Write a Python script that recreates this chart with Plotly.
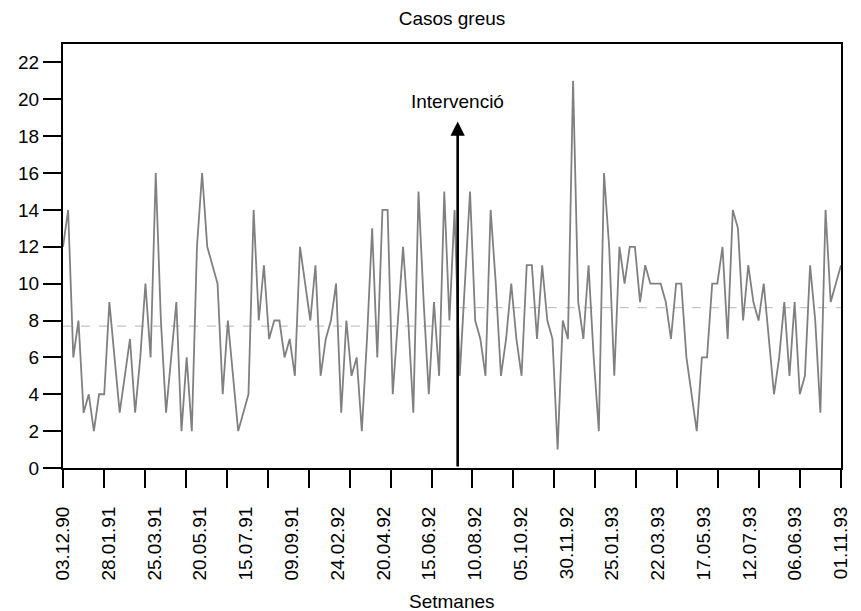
import numpy as np
import plotly.graph_objects as go

# Weekly counts of severe cases
casos = [
    12, 14, 6, 8, 3, 4, 2, 4, 4, 9, 6, 3, 5, 7, 3, 6, 10, 6, 16, 8, 3, 6, 9, 2, 6, 2, 12, 16, 12, 11, 10, 4,
    8, 5, 2, 3, 4, 14, 8, 11, 7, 8, 8, 6, 7, 5, 12, 10, 8, 11, 5, 7, 8, 10, 3, 8, 5, 6, 2, 7,
    13, 6, 14, 14, 4, 8, 12, 8, 3, 15, 9, 4, 9, 5, 15, 8, 14,
    5, 10, 15, 8, 7, 5, 14, 10, 5, 7, 10, 7, 5, 11, 11, 7, 11, 8, 7, 1, 8, 7, 21, 9, 7, 11, 6, 2,
    16, 12, 5, 12, 10, 12, 12, 9, 11, 10, 10, 10,
    9, 7, 10, 10, 6, 4, 2, 6, 6, 10, 10, 12, 7, 14, 13, 8, 11, 9, 8, 10, 7, 4, 6, 9, 5, 9, 4, 5,
    11, 8, 3, 14, 9, 10, 11,
]

etiquetes = [
    "03.12.90", "28.01.91", "25.03.91", "20.05.91", "15.07.91", "09.09.91",
    "24.02.92", "20.04.92", "15.06.92", "10.08.92", "05.10.92", "30.11.92",
    "25.01.93", "22.03.93", "17.05.93", "12.07.93", "06.06.93", "01.11.93",
]

y_ticks = list(range(0, 23, 2))

intervencio = 76.6      # week index of the intervention
intervencio_alt = 18.8  # height reached by the arrow
mitjana_abans = 7.7     # mean level before the intervention
mitjana_despres = 8.7   # mean level after the intervention

n = len(casos)
setmanes = list(range(n))
x_last = n - 1
tick_pos = np.linspace(0, x_last, 20)
label_pos = np.linspace(0, x_last, len(etiquetes))

FONT = "Liberation Sans, Arial, Helvetica, sans-serif"
FS = 19

fig = go.Figure()

# mean levels before / after the intervention
fig.add_trace(go.Scatter(
    x=[0, intervencio], y=[mitjana_abans, mitjana_abans], mode="lines",
    line=dict(color="#c4c4c4", width=1.3, dash="dash"),
    hoverinfo="skip", showlegend=False,
))
fig.add_trace(go.Scatter(
    x=[intervencio, x_last], y=[mitjana_despres, mitjana_despres], mode="lines",
    line=dict(color="#c4c4c4", width=1.3, dash="dash"),
    hoverinfo="skip", showlegend=False,
))

# weekly series
fig.add_trace(go.Scatter(
    x=setmanes, y=casos, mode="lines",
    line=dict(color="#808080", width=1.8),
    showlegend=False,
))

# carrier for the date-label axis
fig.add_trace(go.Scatter(
    x=[0, x_last], y=[None, None], xaxis="x2", mode="lines",
    hoverinfo="skip", showlegend=False,
))

fig.add_annotation(
    x=intervencio, y=intervencio_alt, ax=intervencio, ay=0,
    xref="x", yref="y", axref="x", ayref="y",
    showarrow=True, arrowhead=2, arrowsize=1.1, arrowwidth=2.6,
    arrowcolor="black", text="",
)
fig.add_annotation(
    x=intervencio, y=19.9, xref="x", yref="y", text="Intervenció",
    showarrow=False, font=dict(family=FONT, size=FS, color="black"),
    yanchor="middle", xanchor="center",
)
fig.add_annotation(
    x=0.5, y=-(133 / 424), xref="paper", yref="paper", text="Setmanes",
    showarrow=False, font=dict(family=FONT, size=FS, color="black"),
    yanchor="middle", xanchor="center",
)

fig.update_layout(
    width=861, height=611,
    margin=dict(l=63, r=10, t=44, b=143),
    paper_bgcolor="white", plot_bgcolor="white",
    font=dict(family=FONT, size=FS, color="black"),
    title=dict(text="Casos greus", x=0.5, xref="paper", xanchor="center",
               y=1 - 18 / 611, yref="container", yanchor="middle",
               font=dict(family=FONT, size=FS, color="black")),
    xaxis=dict(
        range=[0, x_last], tickmode="array", tickvals=tick_pos,
        showticklabels=False, ticks="outside", ticklen=18, tickwidth=1.6,
        tickcolor="black", showline=True, linecolor="black", linewidth=2,
        mirror=True, showgrid=False, zeroline=False,
    ),
    xaxis2=dict(
        range=[0, x_last], overlaying="x", anchor="y", side="bottom",
        tickmode="array", tickvals=label_pos, ticktext=etiquetes,
        tickangle=-90, ticks="outside", ticklen=30, tickcolor="rgba(0,0,0,0)",
        showline=False, showgrid=False, zeroline=False,
        tickfont=dict(family=FONT, size=FS, color="black"),
    ),
    yaxis=dict(
        range=[0, 23], tickmode="array", tickvals=y_ticks,
        ticks="outside", ticklen=18, tickwidth=1.6, tickcolor="black",
        showline=True, linecolor="black", linewidth=2, mirror=True,
        showgrid=False, zeroline=False,
        tickfont=dict(family=FONT, size=FS, color="black"),
    ),
)

fig.write_html("out.html")
